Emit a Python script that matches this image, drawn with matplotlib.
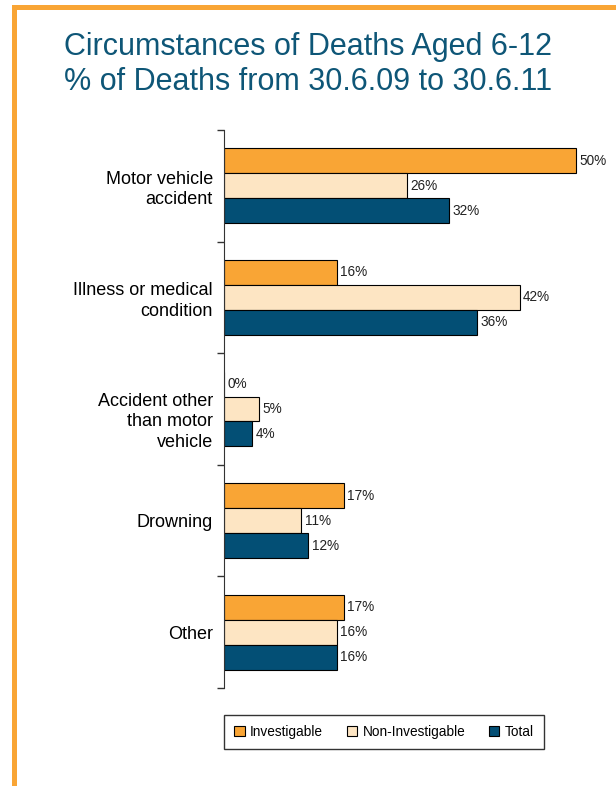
import numpy as np
import matplotlib.pyplot as plt
from matplotlib.patches import Rectangle
from matplotlib.transforms import ScaledTranslation

plt.rcParams['font.family'] = ['Liberation Sans', 'DejaVu Sans']

# categories (top to bottom) and the three series in %
categories = ["Motor vehicle\naccident", "Illness or medical\ncondition",
              "Accident other\nthan motor\nvehicle", "Drowning", "Other"]
investigable = [50, 16, 0, 17, 17]
non_investigable = [26, 42, 5, 11, 16]
total = [32, 36, 4, 12, 16]
series_names = ["Investigable", "Non-Investigable", "Total"]

colours = ["#F9A535", "#FDE5C3", "#034F75"]
title_col = "#0E5677"

fig = plt.figure(figsize=(6.16, 7.86), dpi=100)

# orange frame round the slide
fig.patches.append(Rectangle((13.5 / 616, -0.05), (616 - 13.5 + 5) / 616, 1.05 - 7.5 / 786,
                             transform=fig.transFigure, fill=False,
                             edgecolor="#F9A535", linewidth=3.6))

fig.text(0.5, 1 - 47 / 786, "Circumstances of Deaths Aged 6-12", ha="center", va="center",
         fontsize=22, color=title_col)
fig.text(0.5, 1 - 82 / 786, "% of Deaths from 30.6.09 to 30.6.11", ha="center", va="center",
         fontsize=22, color=title_col)

ax = fig.add_axes([224 / 616, 98 / 786, (611 - 224) / 616, 558 / 786])

y = np.arange(len(categories))
h = 0.224
for k, vals in enumerate([investigable, non_investigable, total]):
    pos = y + (k - 1) * h
    ax.barh(pos, vals, height=h, color=colours[k], edgecolor="black", linewidth=0.8,
            label=series_names[k])
    for p, v in zip(pos, vals):
        ax.text(v + 0.5, p, f"{v}%", va="center", ha="left", fontsize=9.8, color="#222222")

ax.set_xlim(0, 55)
ax.set_ylim(len(categories) - 0.5, -0.5)
ax.set_xticks([])
ax.set_yticks(y)
ax.set_yticklabels(categories, fontsize=13, linespacing=1.28, ha="right")
ax.tick_params(axis="y", which="major", length=0, pad=8)
ax.set_yticks(np.arange(len(categories) + 1) - 0.5, minor=True)
ax.tick_params(axis="y", which="minor", length=5, width=1, color="#333333")
for s in ["top", "right", "bottom"]:
    ax.spines[s].set_visible(False)
ax.spines["left"].set_color("#333333")

# the three-line label sits a little lower than its group centre
lab = ax.get_yticklabels()[2]
lab.set_transform(lab.get_transform() + ScaledTranslation(0, -0.09, fig.dpi_scale_trans))

leg = fig.legend(loc="center", bbox_to_anchor=(384 / 616, 1 - 732 / 786), ncol=3,
                 fontsize=9.8, frameon=True, fancybox=False, edgecolor="black",
                 handlelength=0.75, handleheight=0.75, columnspacing=1.75, handletextpad=0.4,
                 borderpad=0.75)
leg.get_frame().set_linewidth(1.0)

fig.savefig("out.png", dpi=100)
